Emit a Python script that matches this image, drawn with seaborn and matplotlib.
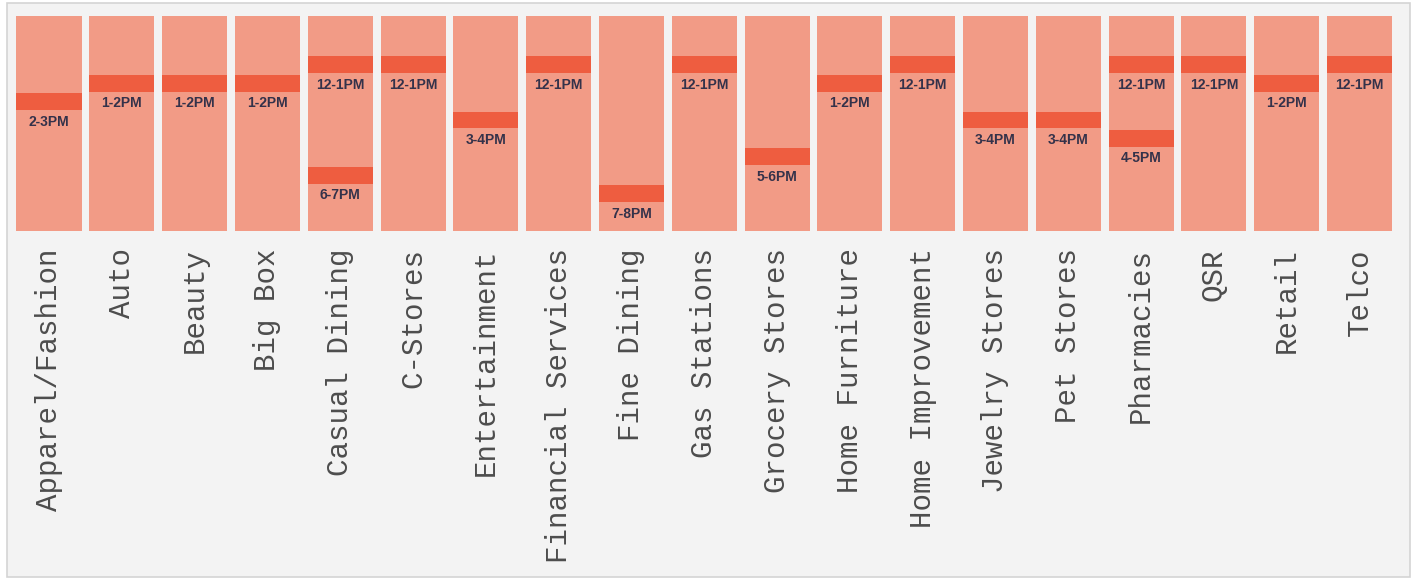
import matplotlib
matplotlib.use("Agg")
import matplotlib.pyplot as plt
import seaborn as sns
import pandas as pd
from matplotlib.patches import Rectangle

# ---- data ----
categories = ["Apparel/Fashion", "Auto", "Beauty", "Big Box", "Casual Dining",
              "C-Stores", "Entertainment", "Financial Services", "Fine Dining",
              "Gas Stations", "Grocery Stores", "Home Furniture", "Home Improvement",
              "Jewelry Stores", "Pet Stores", "Pharmacies", "QSR", "Retail", "Telco"]
# primary peak hour start (24h clock)
peak_hours = [14, 13, 13, 13, 12, 12, 15, 12, 19, 12, 17, 13, 12, 15, 15, 12, 12, 13, 12]
peak_labels = ["2-3PM", "1-2PM", "1-2PM", "1-2PM", "12-1PM", "12-1PM", "3-4PM", "12-1PM",
               "7-8PM", "12-1PM", "5-6PM", "1-2PM", "12-1PM", "3-4PM", "3-4PM", "12-1PM",
               "12-1PM", "1-2PM", "12-1PM"]
# secondary peaks
second_categories = ["Casual Dining", "Pharmacies"]
second_hours = [18, 16]
second_labels = ["6-7PM", "4-5PM"]
# displayed time window (hours)
day_start = 9.8
day_end = 21.5

# ---- styling ----
W, H = 1412, 579
fig = plt.figure(figsize=(W / 100, H / 100), dpi=100)
fig.patch.set_facecolor("white")
fig.patches.append(Rectangle((7 / W, 2 / H), 1403 / W, 574 / H, transform=fig.transFigure,
                             facecolor="#f3f3f3", edgecolor="#d4d4d4", linewidth=1.2, zorder=-5))

ax = fig.add_axes([12.6 / W, 1 - 231 / H, 1383.3 / W, 215 / H])
ax.set_zorder(2)
ax.set_facecolor("none")

light = "#f29b86"
dark = "#ee5d40"
txt_dark = "#34324a"
band = 0.92

bg = pd.DataFrame({"category": categories,
                   "span": [day_end - day_start] * len(categories)})
sns.barplot(data=bg, x="category", y="span", order=categories, color=light,
            saturation=1, width=0.893, bottom=day_start, errorbar=None, ax=ax,
            linewidth=0)

prim = pd.DataFrame({"category": categories, "hour": peak_hours, "label": peak_labels})
sec = pd.DataFrame({"category": second_categories, "hour": second_hours, "label": second_labels})

for df in (prim, sec):
    sns.barplot(data=df.assign(h=band), x="category", y="h", order=categories, color=dark,
                saturation=1, width=0.893, bottom=df["hour"].values, errorbar=None, ax=ax,
                linewidth=0)
    for cat, hr, lab in zip(df["category"], df["hour"], df["label"]):
        ax.text(categories.index(cat), hr + band + 0.25, lab, ha="center", va="top",
                fontsize=10, fontweight="bold", color=txt_dark,
                family=["Liberation Sans", "DejaVu Sans"])

ax.set_ylim(day_end, day_start)
ax.set_xlim(-0.5, len(categories) - 0.5)
ax.set_xlabel("")
ax.set_ylabel("")
ax.set_yticks([])
ax.tick_params(axis="x", length=0, pad=12.5)
ax.set_xticks(range(len(categories)))
ax.set_xticklabels(categories, rotation=90, fontsize=21, color="#4d4d4d",
                   family=["Liberation Mono", "DejaVu Sans Mono"], ha="center", va="top")
for s in ax.spines.values():
    s.set_visible(False)

fig.savefig("out.png", dpi=100)
